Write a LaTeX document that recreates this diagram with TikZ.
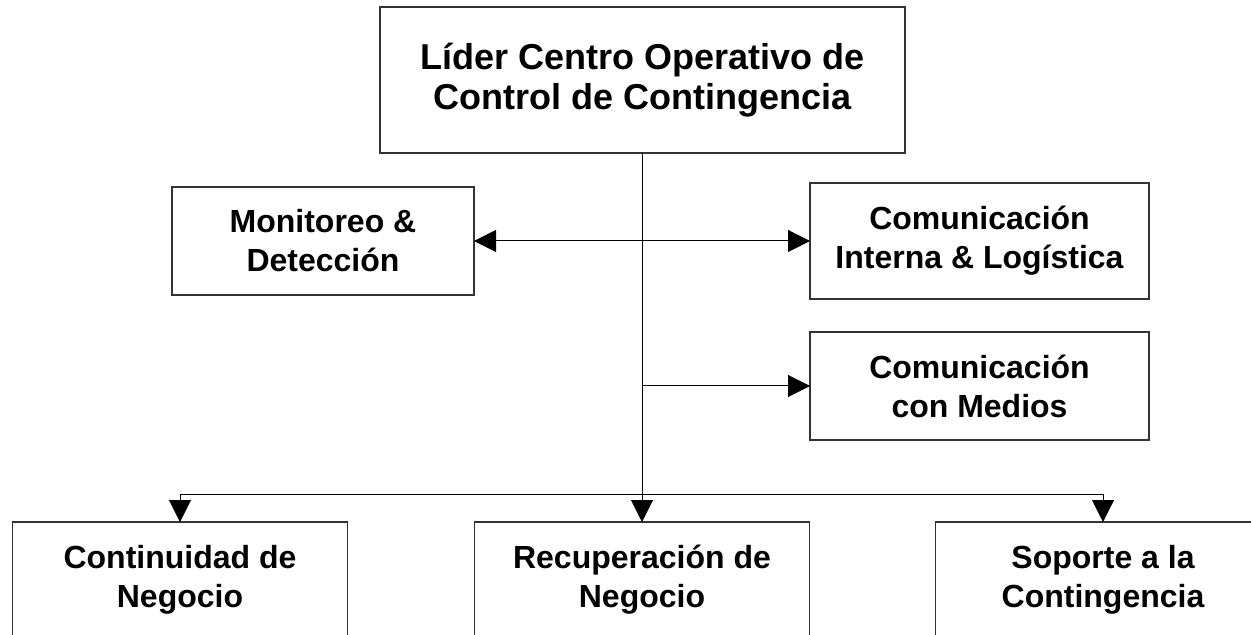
\documentclass[tikz,border=0pt]{standalone}
\usepackage{fontspec}
\setmainfont{Liberation Sans}
\usetikzlibrary{arrows.meta}
\tikzset{
  orgbox/.style={draw=black!80, line width=0.7pt, fill=white, inner sep=0pt, outer sep=0pt,
    align=center, font=\bfseries\fontsize{16}{19.5}\selectfont},
  topbox/.style={orgbox, font=\bfseries\fontsize{18}{20}\selectfont},
  conn/.style={draw=black, line width=0.5pt},
  arr/.style={conn, -{Triangle[length=11pt,width=11pt]}},
  darr/.style={conn, {Triangle[length=11pt,width=11pt]}-{Triangle[length=11pt,width=11pt]}}
}
\begin{document}
\begin{tikzpicture}[x=0.5pt,y=-0.5pt]
\useasboundingbox (0,0) rectangle (1251,635);
\clip (0,0) rectangle (1251,635);
\fill[white] (0,0) rectangle (1251,635);

\node[topbox, minimum width=262.5pt, minimum height=73pt] (lider) at (642.5,80)
  {Líder Centro Operativo de\\Control de Contingencia};
\node[orgbox, minimum width=151pt, minimum height=54pt] (mon) at (323,241)
  {Monitoreo \&\\Detección};
\node[orgbox, minimum width=169.5pt, minimum height=58pt] (ci) at (979.5,241)
  {Comunicación\\Interna \& Logística};
\node[orgbox, minimum width=169.5pt, minimum height=54pt] (med) at (979.5,386)
  {Comunicación\\con Medios};
\node[orgbox, minimum width=167.5pt, minimum height=58pt] (cont) at (180,580)
  {Continuidad de\\Negocio};
\node[orgbox, minimum width=167.5pt, minimum height=58pt] (rec) at (642,580)
  {Recuperación de\\Negocio};
\node[orgbox, minimum width=167.5pt, minimum height=58pt] (sop) at (1103,580)
  {Soporte a la\\Contingencia};

\coordinate (bus) at (642,494);

\draw[arr] (lider.south -| rec.north) -- (rec.north);
\draw[darr] (mon.east) -- (ci.west);
\draw[arr] (rec.north |- med.west) -- (med.west);
\draw[arr] (bus) -| (cont.north);
\draw[arr] (bus) -| (sop.north);
\end{tikzpicture}
\end{document}
